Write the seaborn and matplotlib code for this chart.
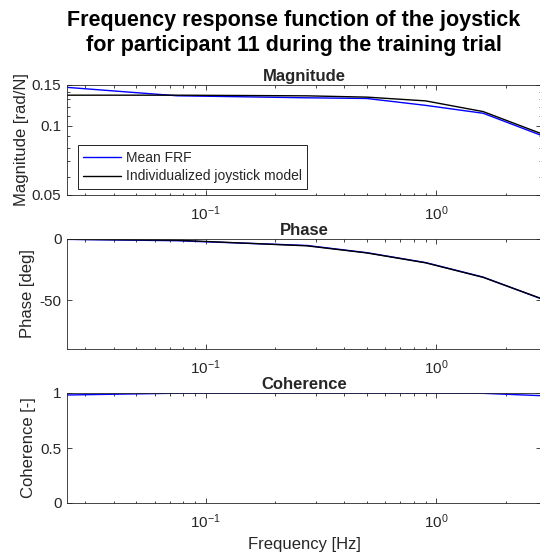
import matplotlib
matplotlib.use("Agg")
import matplotlib.pyplot as plt
import numpy as np
import pandas as pd
import seaborn as sns
from matplotlib.ticker import FixedLocator, FixedFormatter, NullFormatter, LogFormatterSciNotation

# Excitation frequencies of the multisine [Hz]
freq = [0.025, 0.075, 0.275, 0.5, 0.9, 1.6, 2.825]

# Magnitude [rad/N]
mag_frf = [0.1465, 0.1347, 0.1320, 0.1311, 0.1224, 0.1131, 0.0911]
mag_model = [0.1355, 0.1355, 0.1346, 0.1329, 0.1280, 0.1150, 0.0927]

# Phase [deg]
phase_frf = [-0.3, -1.4, -5.3, -11.2, -19.3, -31.2, -48.6]
phase_model = [-0.2, -1.0, -5.6, -11.4, -19.5, -31.4, -48.4]

# Coherence [-]
coherence = [0.982, 0.998, 0.999, 0.999, 0.999, 0.997, 0.976]

series_names = ["Mean FRF", "Individualized joystick model"]
mag_ticks = [0.05, 0.1, 0.15]
mag_tick_labels = ["0.05", "0.1", "0.15"]
phase_ticks = [-50, 0]
phase_tick_labels = ["-50", "0"]
coh_ticks = [0, 0.5, 1]
coh_tick_labels = ["0", "0.5", "1"]

sns.set_style("ticks")
plt.rcParams["font.family"] = ["Liberation Sans", "DejaVu Sans"]
plt.rcParams["axes.unicode_minus"] = False
plt.rcParams["mathtext.fontset"] = "custom"
plt.rcParams["mathtext.rm"] = "Liberation Sans"
plt.rcParams["mathtext.it"] = "Liberation Sans:italic"

ink = "#262626"
palette = {series_names[0]: "#0000ff", series_names[1]: "#000000"}

mag_df = pd.DataFrame({
    "Frequency": freq * 2,
    "Value": mag_frf + mag_model,
    "Series": [series_names[0]] * len(freq) + [series_names[1]] * len(freq),
})
phase_df = pd.DataFrame({
    "Frequency": freq * 2,
    "Value": phase_frf + phase_model,
    "Series": [series_names[0]] * len(freq) + [series_names[1]] * len(freq),
})
coh_df = pd.DataFrame({"Frequency": freq, "Value": coherence})

W, H = 540, 555
fig = plt.figure(figsize=(W / 100, H / 100), dpi=100)

left_px, right_px, h_px = 67, 541, 110
tops = [85, 239, 393]


def make_axes(top):
    return fig.add_axes([left_px / W, 1 - (top + h_px) / H,
                         (right_px - left_px) / W, h_px / H])


ax_mag = make_axes(tops[0])
ax_ph = make_axes(tops[1])
ax_coh = make_axes(tops[2])

sns.lineplot(data=mag_df, x="Frequency", y="Value", hue="Series",
             hue_order=series_names, palette=palette, estimator=None,
             linewidth=1.0, ax=ax_mag)
sns.lineplot(data=phase_df, x="Frequency", y="Value", hue="Series",
             hue_order=series_names, palette=palette, estimator=None,
             linewidth=1.0, ax=ax_ph, legend=False)
sns.lineplot(data=coh_df, x="Frequency", y="Value", color="#0000ff",
             estimator=None, linewidth=1.0, ax=ax_coh)

for ax in (ax_mag, ax_ph, ax_coh):
    ax.set_xscale("log")
    ax.set_xlim(0.025, 2.85)
    ax.xaxis.set_major_locator(FixedLocator([0.1, 1.0]))
    ax.xaxis.set_major_formatter(LogFormatterSciNotation())
    ax.xaxis.set_minor_locator(FixedLocator(
        [k * 0.01 for k in range(3, 10)] + [k * 0.1 for k in range(2, 10)] + [2.0]))
    ax.xaxis.set_minor_formatter(NullFormatter())
    for side in ax.spines.values():
        side.set_visible(True)
        side.set_color(ink)
        side.set_linewidth(0.6)
    ax.tick_params(which="both", direction="in", top=True, right=True,
                   color=ink, width=0.6, labelcolor=ink, labelsize=11)
    ax.tick_params(which="major", length=3.4, pad=4)
    ax.tick_params(axis="x", which="major", pad=7)
    ax.tick_params(which="minor", length=1.8)
    ax.set_xlabel("")

ax_mag.set_yscale("log")
ax_mag.set_ylim(0.05, 0.15)
ax_mag.yaxis.set_major_locator(FixedLocator(mag_ticks))
ax_mag.yaxis.set_major_formatter(FixedFormatter(mag_tick_labels))
ax_mag.yaxis.set_minor_locator(FixedLocator([0.06, 0.07, 0.08, 0.09, 0.11, 0.12, 0.13, 0.14]))
ax_mag.yaxis.set_minor_formatter(NullFormatter())

ax_ph.set_ylim(-90, 0)
ax_ph.yaxis.set_major_locator(FixedLocator(phase_ticks))
ax_ph.yaxis.set_major_formatter(FixedFormatter(phase_tick_labels))

ax_coh.set_ylim(0, 1)
ax_coh.yaxis.set_major_locator(FixedLocator(coh_ticks))
ax_coh.yaxis.set_major_formatter(FixedFormatter(coh_tick_labels))

ax_mag.set_ylabel("Magnitude [rad/N]", fontsize=12, color=ink, labelpad=2)
ax_ph.set_ylabel("Phase [deg]", fontsize=12, color=ink, labelpad=3)
ax_coh.set_ylabel("Coherence [-]", fontsize=12, color=ink, labelpad=3)
ax_coh.set_xlabel("Frequency [Hz]", fontsize=12, color=ink, labelpad=4)

for ax, name in ((ax_mag, "Magnitude"), (ax_ph, "Phase"), (ax_coh, "Coherence")):
    ax.set_title(name, fontsize=12, fontweight="bold", pad=3)

leg = ax_mag.legend(loc="lower left", bbox_to_anchor=(0.023, 0.055),
                    fontsize=10, frameon=True, fancybox=False, framealpha=1,
                    edgecolor="#000000", borderaxespad=0, borderpad=0.4,
                    handlelength=2.7, handletextpad=0.35, labelspacing=0.35)
leg.get_frame().set_linewidth(0.6)
for line in leg.get_lines():
    line.set_linewidth(1.0)

fig.text(294 / W, 1 - 33 / H,
         "Frequency response function of the joystick\nfor participant 11 during the training trial",
         ha="center", va="center", fontsize=15.5, fontweight="bold",
         linespacing=1.2, color="#000000")

fig.savefig("out.png", dpi=100)
